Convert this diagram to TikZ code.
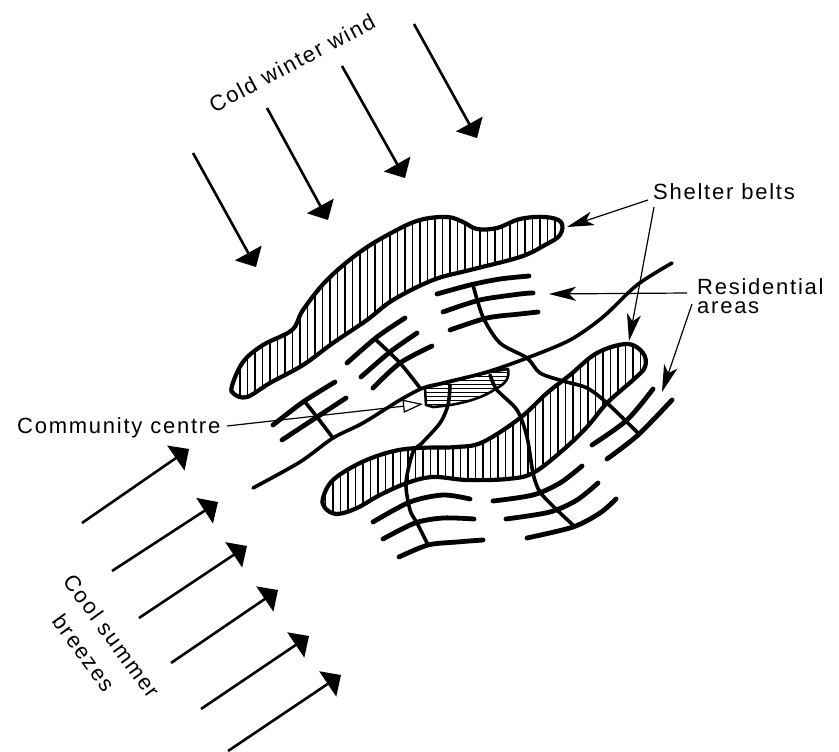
\documentclass[tikz,border=0pt]{standalone}
\usepackage{fontspec}
\setmainfont[LetterSpace=8]{Liberation Sans}
\usetikzlibrary{arrows.meta}

\newcommand{\topbelt}{plot[smooth cycle,tension=.6] coordinates {(232,386) (243,362) (263,345) (292,330) (303,310) (327,280) (360,252) (393,232) (420,220) (447,217) (463,222) (477,229) (497,228) (520,219) (545,217) (561,222) (560,235) (545,245) (520,257) (470,270) (433,280) (393,300) (367,320) (333,343) (303,365) (270,383) (247,397) (234,394)}}
\newcommand{\lowbelt}{plot[smooth cycle,tension=.6] coordinates {(323,498) (333,480) (360,463) (390,452) (417,448) (457,447) (483,442) (520,418) (547,393) (570,375) (597,353) (627,344) (643,353) (645,367) (633,380) (607,403) (587,427) (563,450) (533,473) (507,479) (467,480) (433,477) (407,483) (380,495) (357,508) (337,514) (325,508)}}
\newcommand{\centreblob}{(425,388) -- (426,405) -- (433,407) .. controls (457,405) and (480,400) .. (497,388) .. controls (505,384) and (510,378) .. (508,369) -- (490,372) -- (450,382) -- cycle}

\begin{document}
\begin{tikzpicture}[
    x=1pt,y=-1pt,
    label/.style={font=\fontsize{22}{24}\selectfont,inner sep=0pt},
    windarrow/.style={line width=2.6pt,-{Triangle[length=16pt,width=30pt]}},
    leader/.style={line width=1.2pt,-{Stealth[length=27pt,width=14pt,inset=7pt]}},
    street/.style={line width=4.8pt,line cap=round},
    crossing/.style={line width=3.6pt,line cap=round},
    beltline/.style={line width=4.2pt},
    hatch/.style={line width=1.6pt}
]
\useasboundingbox (0,0) rectangle (839,752);

% shelter belts
\begin{scope}
\clip \topbelt;
\foreach \x in {225,232.5,...,570} \draw[hatch] (\x,210) -- (\x,400);
\end{scope}
\begin{scope}
\clip \lowbelt;
\foreach \x in {318,325.5,...,650} \draw[hatch] (\x,340) -- (\x,520);
\end{scope}
\draw[beltline] \topbelt;
\draw[beltline] \lowbelt;

% community centre
\begin{scope}
\clip \centreblob;
\foreach \y in {368,372,...,408} \draw[line width=1pt] (420,\y) -- (512,\y);
\end{scope}
\draw[line width=2.6pt,line join=round] \centreblob;

% main road
\draw[line width=3.6pt,line cap=round] plot[smooth] coordinates {(672,263) (637,285) (603,317) (570,340) (527,358) (487,372) (443,383) (423,388) (400,400) (363,423) (333,438) (300,462) (253,488)};

% residential streets
\draw[street] plot[smooth] coordinates {(437,294) (470,285) (500,279) (529,276)};
\draw[street] plot[smooth] coordinates {(443,312) (480,300) (520,294) (533,293)};
\draw[street] plot[smooth] coordinates {(450,330) (487,318) (520,314) (538,312)};
\draw[street] plot[smooth] coordinates {(347,363) (377,337) (405,318)};
\draw[street] plot[smooth] coordinates {(361,377) (390,352) (417,333)};
\draw[street] plot[smooth] coordinates {(373,388) (400,363) (432,346)};
\draw[street] plot[smooth] coordinates {(273,425) (303,402) (335,382)};
\draw[street] plot[smooth] coordinates {(282,440) (317,417) (346,398)};
\draw[street] plot[smooth] coordinates {(373,522) (410,502) (443,495) (470,499)};
\draw[street] plot[smooth] coordinates {(383,539) (415,523) (443,518) (474,519)};
\draw[street] plot[smooth] coordinates {(399,557) (428,545) (457,542) (483,540)};
\draw[street] plot[smooth] coordinates {(493,501) (533,495) (560,483) (582,466)};
\draw[street] plot[smooth] coordinates {(506,519) (550,512) (577,500) (598,483)};
\draw[street] plot[smooth] coordinates {(527,538) (573,527) (600,513) (616,499)};
\draw[street] plot[smooth] coordinates {(592,445) (627,420) (653,389)};
\draw[street] plot[smooth] coordinates {(607,459) (638,435) (672,400)};

% cross roads
\draw[crossing] plot[smooth] coordinates {(473,285) (483,317) (500,343) (527,358) (540,373) (563,381) (587,388) (607,403) (638,433)};
\draw[crossing] plot[smooth] coordinates {(375,339) (400,363) (420,388)};
\draw[crossing] plot[smooth] coordinates {(305,402) (317,417) (333,438)};
\draw[crossing] plot[smooth] coordinates {(450,385) (448,405) (440,423) (422,443) (413,452) (406,483) (410,510) (417,523) (428,545)};
\draw[crossing] plot[smooth] coordinates {(490,375) (497,390) (517,410) (527,437) (533,473) (540,492) (557,510) (573,525)};

% labels
\node[label,rotate=28]  (winter)    at (292,63)  {Cold winter wind};
\node[label,rotate=-54] (summer)    at (112,636) {Cool summer};
\node[label,rotate=-54] (breezes)   at (84,653)  {breezes};
\node[label,anchor=west] (shelter)  at (653,192) {Shelter belts};
\node[label,anchor=west] (resid)    at (697,287) {Residential};
\node[label,anchor=west] (areas)    at (697,308) {areas};
\node[label,anchor=west] (commun)   at (17,428)  {Community centre};

\coordinate (toptail)   at (648,200);
\coordinate (toptip)    at (567,227);
\coordinate (lowtail)   at (654,207);
\coordinate (lowtip)    at (629,341);
\coordinate (streettail) at (687,293);
\coordinate (streettip) at (549,294);
\coordinate (righttail) at (692,304);
\coordinate (righttip)  at (662,392);
\coordinate (centretail) at (227,426);
\coordinate (centretip) at (423,404);

\draw[leader] (toptail) -- (toptip);
\draw[leader] (lowtail) -- (lowtip);
\draw[leader] (streettail) -- (streettip);
\draw[leader] (righttail) -- (righttip);
\draw[line width=1.2pt,-{Triangle[open,length=20pt,width=13pt]}] (centretail) -- (centretip);

% wind arrows
\foreach \n/\xa/\ya/\xb/\yb in {1/193/153/256/267, 2/267/108/328/220, 3/342/66/405/178, 4/414/24/477/138}{
  \coordinate (wa\n) at (\xa,\ya);
  \coordinate (wb\n) at (\xb,\yb);
  \draw[windarrow] (wa\n) -- (wb\n);
}
\foreach \n/\xa/\ya/\xb/\yb in {1/82/523/189/449, 2/112/571/218/502, 3/139/618/247/546, 4/171/663/278/590, 5/201/709/309/636, 6/228/751/341/675}{
  \coordinate (sa\n) at (\xa,\ya);
  \coordinate (sb\n) at (\xb,\yb);
  \draw[windarrow] (sa\n) -- (sb\n);
}
\end{tikzpicture}
\end{document}
